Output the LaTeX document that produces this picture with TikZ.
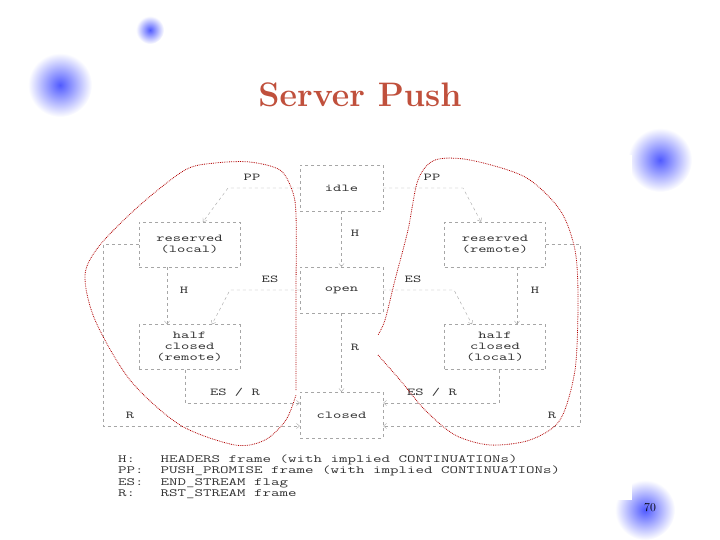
\documentclass[tikz,border=0pt]{standalone}
\usepackage{tikz}
\usetikzlibrary{positioning,arrows.meta}
\definecolor{titlered}{RGB}{192,80,60}
\definecolor{dotblue}{RGB}{80,90,255}
\newcommand{\wide}[1]{\scalebox{1.5}[1]{#1}}
\tikzset{
  st/.style={draw=gray!70, dashed, minimum width=101pt, minimum height=45pt, align=center, font=\ttfamily\fontsize{10.5}{11}\selectfont, text=gray!40!black},
  wire/.style={gray!70, dashed, arrows={-{Straight Barb[length=3pt,width=5pt]}}},
  lab/.style={font=\ttfamily\fontsize{10.5}{11}\selectfont, text=gray!40!black},
  legend/.style={font=\ttfamily\fontsize{11}{11}\selectfont, text=black!80, anchor=west, inner sep=0pt},
  scrib/.style={red!70!black, densely dotted, thick},
  blob/.style={inner color=dotblue, outer color=white}
}
\begin{document}
\begin{tikzpicture}[x=1pt,y=-1pt]
\useasboundingbox (0,0) rectangle (720,540);
% blurred dots
\shade[blob] (150,30) circle (14);
\shade[blob] (60,85) circle (32);
\shade[blob] (660,160) circle (32);
\shade[blob] (645,510) circle (30);
\fill[white] (85,155) rectangle (632,500);
\node[font=\bfseries\fontsize{34}{36}\selectfont, text=titlered] (title) at (360,95) {Server Push};
\node[font=\large] (page) at (650,508) {70};
% states
\node[st, minimum width=83pt, minimum height=46pt] (idle) at (341.5,188) {\wide{idle}};
\node[st, minimum width=83pt, minimum height=46pt] (open) at (341.5,290) {\wide{open}};
\node[st, minimum width=83pt, minimum height=46pt] (closed) at (341.5,415) {\wide{closed}};
\node[st] (resl) at (189.5,244.5) {\wide{reserved}\\\wide{(local)}};
\node[st] (hcr) at (189.5,347) {\wide{half}\\\wide{closed}\\\wide{(remote)}};
\node[st] (resr) at (495,244.5) {\wide{reserved}\\\wide{(remote)}};
\node[st] (hcl) at (495,347) {\wide{half}\\\wide{closed}\\\wide{(local)}};
% transitions
\draw[wire] (idle.west) -- (228,188) -- (resl.north -| 203,0);
\node[lab] (ppl) at (252,177) {\wide{PP}};
\draw[wire] (idle.east) -- (463,188) -- (resr.north -| 481,0);
\node[lab] (ppr) at (432,177) {\wide{PP}};
\draw[wire] (idle.south) -- (open.north);
\node[lab] (h1) at (355,233) {\wide{H}};
\draw[wire] (open.west) -- (230,290) -- (hcr.north -| 212,0);
\node[lab] (esl) at (270,279) {\wide{ES}};
\draw[wire] (open.east) -- (454,290) -- (hcl.north -| 472,0);
\node[lab] (esr) at (413,279) {\wide{ES}};
\draw[wire] (resl.south -| 167,0) -- (hcr.north -| 167,0);
\node[lab] (h2) at (184,290) {\wide{H}};
\draw[wire] (resr.south -| 517,0) -- (hcl.north -| 517,0);
\node[lab] (h3) at (535,290) {\wide{H}};
\draw[wire] (open.south) -- (closed.north);
\node[lab] (r1) at (355,347) {\wide{R}};
\draw[wire] (hcr.south -| 185,0) -- (185,403) -- (closed.west |- 0,403);
\node[lab] (esrl) at (235,392) {\wide{ES / R}};
\draw[wire] (hcl.south -| 499,0) -- (499,403) -- (closed.east |- 0,403);
\node[lab] (esrr) at (432,392) {\wide{ES / R}};
\draw[wire] (resl.west) -- (103,244.5) -- (103,426) -- (closed.west |- 0,426);
\node[lab] (r2) at (130,415) {\wide{R}};
\draw[wire] (resr.east) -- (580,244.5) -- (580,426) -- (closed.east |- 0,426);
\node[lab] (r3) at (552,415) {\wide{R}};
% legend
\node[legend] (lh) at (118,460) {\wide{H:\ \ \ HEADERS frame (with implied CONTINUATIONs)}};
\node[legend] (lpp) at (118,471) {\wide{PP:\ \ PUSH\_PROMISE frame (with implied CONTINUATIONs)}};
\node[legend] (les) at (118,483) {\wide{ES:\ \ END\_STREAM flag}};
\node[legend] (lr) at (118,494) {\wide{R:\ \ \ RST\_STREAM frame}};
% hand-drawn loops
\draw[scrib] plot[smooth] coordinates {(296,390) (296,300) (296,215) (292,190) (280,170) (250,162) (215,163) (185,170) (140,205) (100,245) (85,275) (95,320) (130,380) (180,425) (235,445) (265,440) (286,420) (296,395)};
\draw[scrib] plot[smooth] coordinates {(378,355) (400,380) (425,410) (455,435) (490,445) (530,440) (560,420) (575,370) (578,300) (575,250) (560,210) (525,177) (470,160) (435,160) (418,180) (408,230) (395,280) (385,320) (378,335)};
\end{tikzpicture}
\end{document}
